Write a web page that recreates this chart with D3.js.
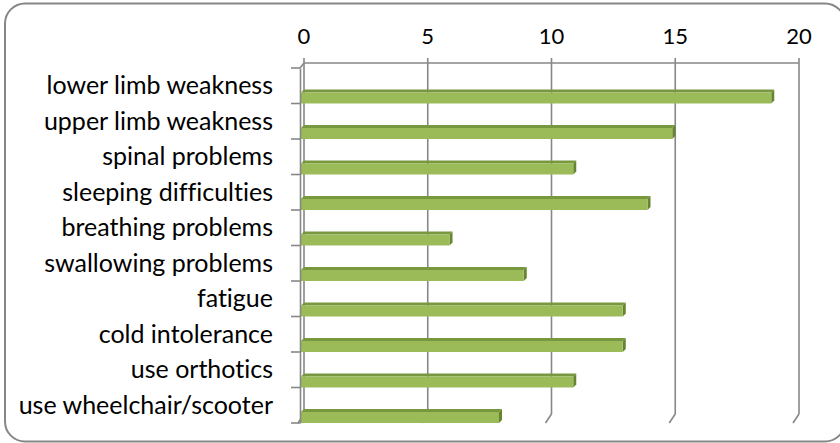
<!DOCTYPE html>
<html>
<head>
<meta charset="utf-8">
<script src="https://cdn.jsdelivr.net/npm/d3@7"></script>
<style>
  html, body { margin: 0; padding: 0; background: #fff; }
  svg { display: block; }
  text { font-family: Lato, "Open Sans", sans-serif; fill: #000; font-variant-ligatures: none; }
</style>
</head>
<body>
<svg id="chart" width="840" height="443"></svg>
<script>
// Symptoms and number of participants reporting each one
const categories = [
  "lower limb weakness",
  "upper limb weakness",
  "spinal problems",
  "sleeping difficulties",
  "breathing problems",
  "swallowing problems",
  "fatigue",
  "cold intolerance",
  "use orthotics",
  "use wheelchair/scooter"
];
const counts = [19, 15, 11, 14, 6, 9, 13, 13, 11, 8];
const valueTicks = [0, 5, 10, 15, 20];

const svg = d3.select("#chart");

// Chart frame with rounded corners
svg.append("rect")
  .attr("x", 5).attr("y", 3.5)
  .attr("width", 840).attr("height", 438)
  .attr("rx", 20).attr("ry", 20)
  .attr("fill", "#fff")
  .attr("stroke", "#868686")
  .attr("stroke-width", 2);

// 3D geometry: back wall vs. front plane offsets
const depthTop = { dx: 4, dy: -5 };     // front -> back at the top edge
const depthBottom = { dx: 6, dy: -9 };  // front -> back at the floor edge
const barDepth = 3;

const xBack = d3.scaleLinear().domain([0, 20]).range([304, 799]);
const y = d3.scaleBand().domain(categories).range([68, 423]).padding(0);

const backTop = 63;
const backBottom = 414;
const gridColor = "#878787";

const grid = svg.append("g").attr("stroke", gridColor).attr("fill", "none");

// Back-wall vertical gridlines (with small tick marks above the wall)
grid.selectAll("line.v")
  .data(valueTicks)
  .join("line")
  .attr("class", "v")
  .attr("x1", d => xBack(d)).attr("x2", d => xBack(d))
  .attr("y1", backTop - 5).attr("y2", backBottom)
  .attr("stroke-width", 1.6);

// Top edge of the back wall
grid.append("line")
  .attr("x1", xBack(0)).attr("x2", xBack(20))
  .attr("y1", backTop).attr("y2", backTop)
  .attr("stroke-width", 1.6);

// Floor gridlines running toward the viewer
grid.selectAll("line.f")
  .data(valueTicks)
  .join("line")
  .attr("class", "f")
  .attr("x1", d => xBack(d)).attr("y1", backBottom)
  .attr("x2", d => xBack(d) - depthBottom.dx).attr("y2", backBottom - depthBottom.dy)
  .attr("stroke-width", 1.6);

// Connector from front axis top to back wall corner
grid.append("line")
  .attr("x1", xBack(0) - depthTop.dx).attr("y1", backTop - depthTop.dy)
  .attr("x2", xBack(0)).attr("y2", backTop)
  .attr("stroke-width", 1.6);

// Bars: front face, top face and end face
const frontX0 = xBack(0) - barDepth;
const barH = 11;
const bars = svg.append("g");
const rows = categories.map((c, i) => ({ c, v: counts[i] }));

bars.selectAll("path.top")
  .data(rows)
  .join("path")
  .attr("class", "top")
  .attr("fill", "#789840")
  .attr("d", d => {
    const yb = y(d.c) + y.bandwidth();
    const yt = yb - barH;
    const x1 = xBack(d.v) - barDepth;
    return `M${frontX0},${yt}L${x1},${yt}L${x1 + barDepth},${yt - barDepth}L${frontX0 + barDepth},${yt - barDepth}Z`;
  });

bars.selectAll("path.side")
  .data(rows)
  .join("path")
  .attr("class", "side")
  .attr("fill", "#67842f")
  .attr("d", d => {
    const yb = y(d.c) + y.bandwidth();
    const yt = yb - barH;
    const x1 = xBack(d.v) - barDepth;
    return `M${x1},${yt}L${x1 + barDepth},${yt - barDepth}L${x1 + barDepth},${yb - barDepth}L${x1},${yb}Z`;
  });

bars.selectAll("rect.front")
  .data(rows)
  .join("rect")
  .attr("class", "front")
  .attr("fill", "#9bbb59")
  .attr("x", frontX0)
  .attr("y", d => y(d.c) + y.bandwidth() - barH)
  .attr("width", d => xBack(d.v) - barDepth - frontX0)
  .attr("height", barH);

// Front category axis with outward ticks
const axisX = xBack(0) - depthTop.dx;
const catAxis = svg.append("g").attr("transform", `translate(${axisX},0)`);
catAxis.call(d3.axisLeft(y).tickSize(0).tickFormat(""));
catAxis.select(".domain").attr("stroke", gridColor).attr("stroke-width", 1.6);

const boundaries = categories.map(c => y(c)).concat([y.range()[1]]);
svg.append("g").selectAll("line")
  .data(boundaries)
  .join("line")
  .attr("x1", axisX - 9).attr("x2", axisX)
  .attr("y1", d => d).attr("y2", d => d)
  .attr("stroke", gridColor).attr("stroke-width", 1.6);

// Category labels
svg.append("g").selectAll("text")
  .data(categories)
  .join("text")
  .attr("x", 273)
  .attr("y", d => y(d) + y.bandwidth() / 2 + 8.5)
  .attr("text-anchor", "end")
  .attr("font-size", 25)
  .text(d => d);

// Value axis labels along the top
svg.append("g").selectAll("text")
  .data(valueTicks)
  .join("text")
  .attr("x", d => xBack(d))
  .attr("y", 44)
  .attr("text-anchor", "middle")
  .attr("font-size", 22)
  .text(d => d);
</script>
</body>
</html>
